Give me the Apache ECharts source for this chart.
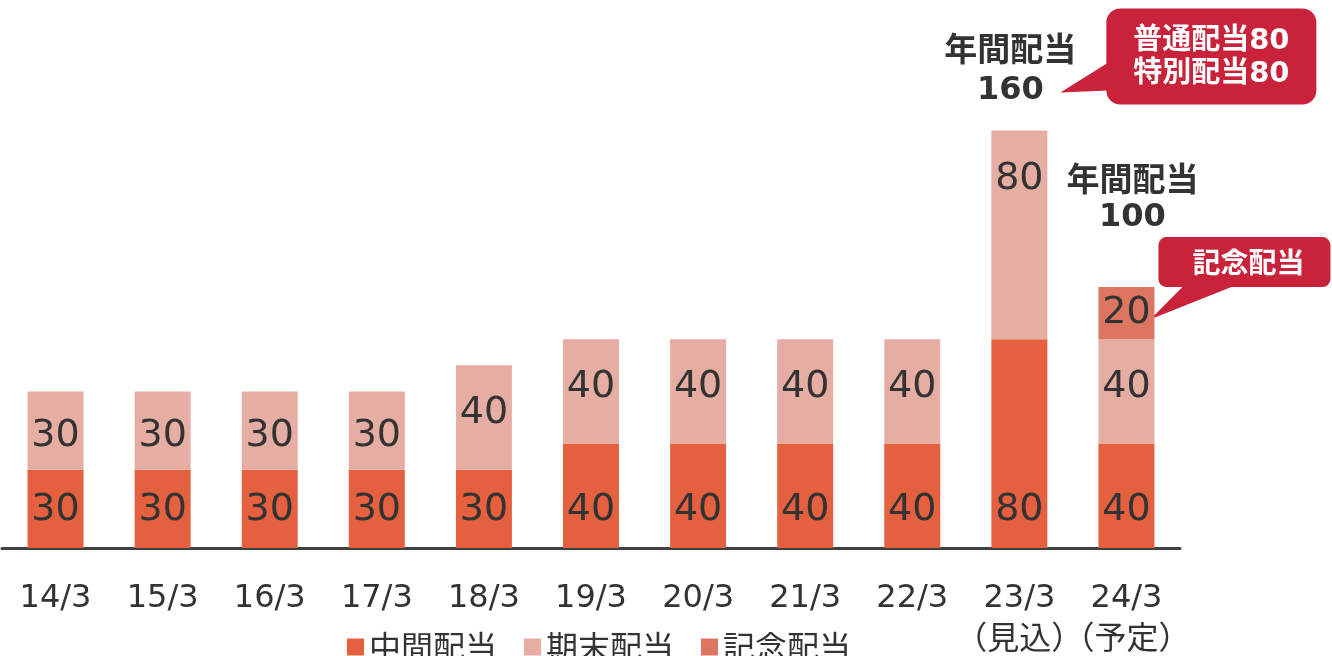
<!DOCTYPE html>
<html>
<head>
<meta charset="utf-8">
<script src="https://cdn.jsdelivr.net/npm/echarts@6/dist/echarts.min.js"></script>
<style>
html,body{margin:0;padding:0;background:#fff;}
#chart{width:1332px;height:656px;}
</style>
</head>
<body>
<div id="chart"></div>
<script>
// Fiscal periods (年/月) and dividend per share components
const categories = ['14/3','15/3','16/3','17/3','18/3','19/3','20/3','21/3','22/3','23/3\n（見込）','24/3\n（予定）'];
const interimDiv = [30,30,30,30,30,40,40,40,40,80,40];
const yearEndDiv = [30,30,30,30,40,40,40,40,40,80,40];
const commemorativeDiv = [null,null,null,null,null,null,null,null,null,null,20];
const seriesNames = ['中間配当','期末配当','記念配当'];
const noteOrdinary = '普通配当80';
const noteSpecial = '特別配当80';
const noteCommemorative = '記念配当';

const FONT = "'DejaVu Sans','Noto Sans CJK JP',sans-serif";
const JP_FONT = "'Noto Sans CJK JP','DejaVu Sans',sans-serif";
const C_INTERIM = '#E5603F';
const C_YEAREND = '#E6ADA2';
const C_COMMEM = '#DD7660';
const C_NOTE = '#C8233A';

const chart = echarts.init(document.getElementById('chart'), null, {renderer:'canvas'});

const valueLabel = {
  show: true, position: 'inside', color: '#333', fontFamily: FONT, fontSize: 38
};

// Year-end labels: the large 23/3 segment carries its label near the top
const yearEndData = yearEndDiv.map((v, i) => {
  if (i === 9) return {value: v, label: {position: 'insideTop', distance: 30}};
  if (v === 30) return {value: v, label: {offset: [0, 6]}};
  return {value: v, label: {offset: [0, -4]}};
});

chart.setOption({
  animation: false,
  grid: {left: 2, right: 152, top: 0, height: 548, containLabel: false, outerBoundsMode: 'none'},
  legend: {
    top: 626, left: 342, itemWidth: 17, itemHeight: 17, itemGap: 27,
    icon: 'rect',
    textStyle: {fontFamily: JP_FONT, fontSize: 32, color: '#333', padding: [0,0,0,0]},
    data: seriesNames
  },
  xAxis: {
    type: 'category', data: categories,
    axisLine: {lineStyle: {color: '#404040', width: 3}},
    axisTick: {show: false},
    axisLabel: {margin: 30, color: '#333', fontFamily: FONT, fontSize: 32, lineHeight: 42, interval: 0}
  },
  yAxis: {type: 'value', min: 0, max: 210, show: false, splitLine: {show: false}},
  series: [
    {name: seriesNames[0], type: 'bar', stack: 'd', barWidth: 56, data: interimDiv,
     itemStyle: {color: C_INTERIM},
     label: Object.assign({}, valueLabel, {position: 'insideBottom', distance: 19})},
    {name: seriesNames[1], type: 'bar', stack: 'd', barWidth: 56, data: yearEndData,
     itemStyle: {color: C_YEAREND}, label: valueLabel},
    {name: seriesNames[2], type: 'bar', stack: 'd', barWidth: 56, data: commemorativeDiv,
     itemStyle: {color: C_COMMEM}, label: valueLabel}
  ]
});

// Annual totals for the annotated periods
const totals = interimDiv.map((v, i) => v + yearEndDiv[i] + (commemorativeDiv[i] || 0));
const i23 = 9, i24 = 10;
const top23 = chart.convertToPixel({gridIndex: 0}, [i23, totals[i23]]);
const top24 = chart.convertToPixel({gridIndex: 0}, [i24, totals[i24]]);
const mid24c = chart.convertToPixel({gridIndex: 0}, [i24, interimDiv[i24] + yearEndDiv[i24] + commemorativeDiv[i24] / 2]);

const boldJp = {fontFamily: JP_FONT, fontWeight: 'bold', fontSize: 33, fill: '#333', align: 'center', verticalAlign: 'middle'};
const boldNum = {fontFamily: FONT, fontWeight: 'bold', fontSize: 32, fill: '#333', align: 'center', verticalAlign: 'middle'};
const noteText = {fontFamily: FONT, fontWeight: 'bold', fontSize: 29, fill: '#fff', align: 'center', verticalAlign: 'middle'};

const g1x = top23[0] - 9, g1y = top23[1];
const b1 = {x: top23[0] + 87, y: top23[1] - 122, w: 210, h: 96};
const g2x = top24[0] + 6, g2y = top24[1];
const b2 = {x: top24[0] + 32, y: top24[1] - 50, w: 172, h: 50};

chart.setOption({
  graphic: [
    {type: 'text', x: g1x, y: g1y - 82, style: Object.assign({text: '年間配当'}, boldJp)},
    {type: 'text', x: g1x, y: g1y - 40, style: Object.assign({text: String(totals[i23])}, boldNum)},
    {type: 'polygon', shape: {points: [[b1.x + 2, b1.y + 54], [top23[0] + 41, top23[1] - 38], [b1.x + 2, b1.y + 82]]}, style: {fill: C_NOTE}},
    {type: 'rect', shape: {x: b1.x, y: b1.y, width: b1.w, height: b1.h, r: 14}, style: {fill: C_NOTE}},
    {type: 'text', x: b1.x + b1.w / 2, y: b1.y + 33, style: Object.assign({text: noteOrdinary}, noteText)},
    {type: 'text', x: b1.x + b1.w / 2, y: b1.y + 66, style: Object.assign({text: noteSpecial}, noteText)},

    {type: 'text', x: g2x, y: g2y - 109, style: Object.assign({text: '年間配当'}, boldJp)},
    {type: 'text', x: g2x, y: g2y - 69, style: Object.assign({text: String(totals[i24])}, boldNum)},
    {type: 'polygon', shape: {points: [[b2.x + 26, b2.y + b2.h - 2], [mid24c[0] + 24, mid24c[1] + 6], [b2.x + 78, b2.y + b2.h - 2]]}, style: {fill: C_NOTE}},
    {type: 'rect', shape: {x: b2.x, y: b2.y, width: b2.w, height: b2.h, r: 8}, style: {fill: C_NOTE}},
    {type: 'text', x: b2.x + b2.w / 2 + 4, y: b2.y + b2.h / 2, style: Object.assign({text: noteCommemorative}, noteText, {fontFamily: JP_FONT, fontSize: 28})}
  ]
});
</script>
</body>
</html>
